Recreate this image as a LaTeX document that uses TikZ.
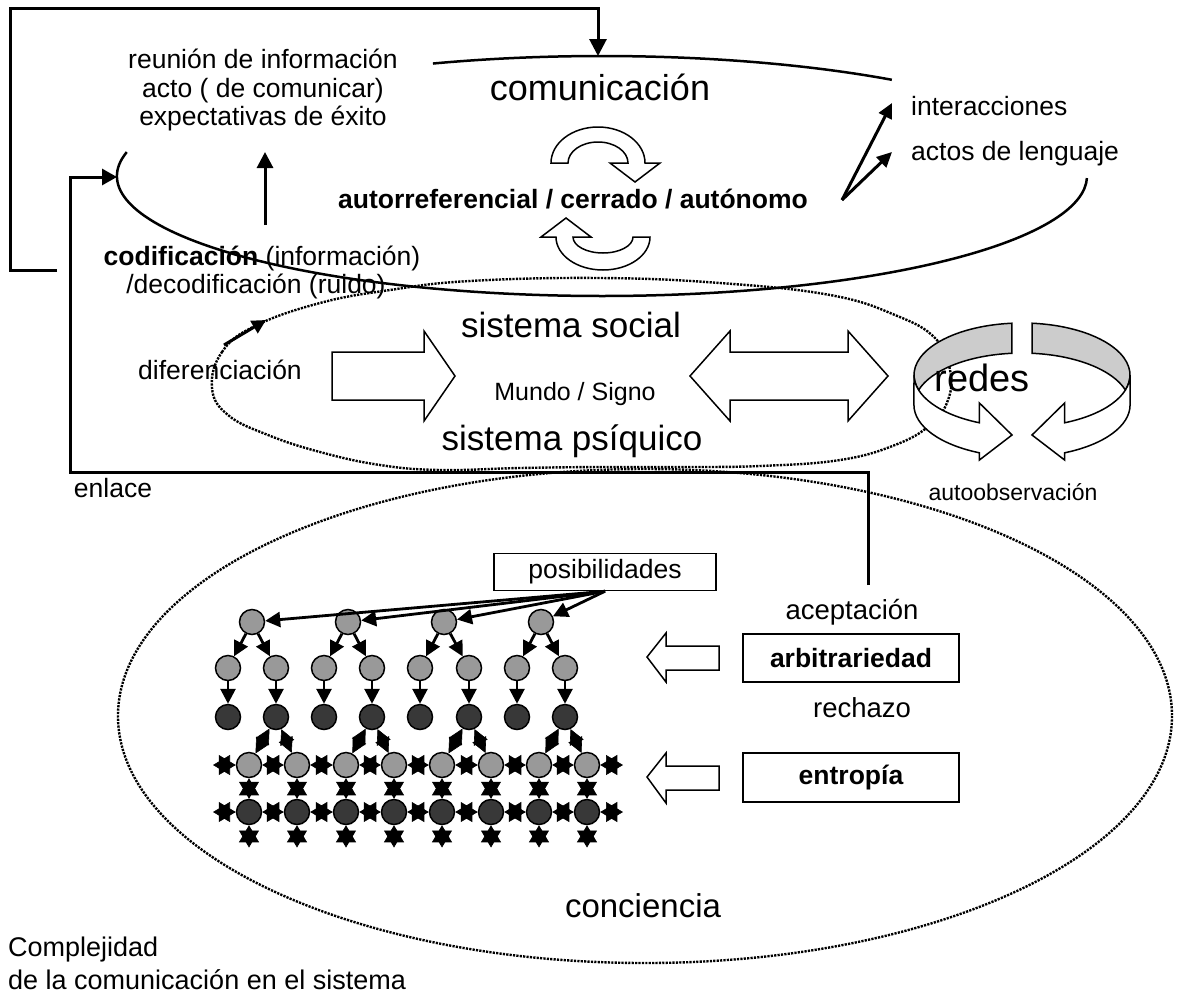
\documentclass[tikz,border=0pt]{standalone}
\usepackage{fontspec}
\setmainfont{Liberation Sans}
\usetikzlibrary{arrows.meta,calc}
\definecolor{ndgray}{gray}{0.6}
\definecolor{nddark}{gray}{0.22}
\definecolor{ringgray}{gray}{0.8}
\begin{document}
\begin{tikzpicture}[x=1pt,y=-1pt,
  every node/.style={inner sep=0pt},
  tsmall/.style={font=\fontsize{26.5}{30}\selectfont},
  tbold/.style={font=\fontsize{26.5}{30}\selectfont\bfseries},
  tmid/.style={font=\fontsize{35}{40}\selectfont},
  tbig/.style={font=\fontsize{36}{40}\selectfont},
  tmundo/.style={font=\fontsize{25}{28}\selectfont},
  fbline/.style={line width=3pt},
  solidell/.style={line width=2.5pt},
  dotline/.style={line width=2.4pt, dash pattern=on 2.2pt off 1.2pt},
  hollow/.style={draw, fill=white, line width=1.5pt, line join=miter},
  gnode/.style={circle, draw, line width=1.5pt, fill=ndgray, minimum size=25pt},
  dnode/.style={circle, draw, line width=1.5pt, fill=nddark, minimum size=25pt},
  tarrow/.style={line width=2.8pt, -{Triangle[length=15pt,width=15pt]}},
  dstar/.style={line width=0.6pt, {Triangle[length=17pt,width=20pt]}-{Triangle[length=17pt,width=20pt]}},
  kite/.style={line width=0.6pt, {Triangle[length=15pt,width=15pt]}-{Triangle[length=15pt,width=15pt]}},
  tbox/.style={draw, line width=1.5pt},
]
\fill[white] (0,0) rectangle (1190,1004);
\useasboundingbox (0,0) rectangle (1190,1004);

% ---------- dotted ellipses ----------
\draw[dotline] plot[smooth cycle, tension=0.7] coordinates {
 (212,388) (222,352) (255,326) (320,303) (390,290) (470,281) (600,278) (720,283)
 (830,295) (895,315) (935,338) (950,370) (948,400) (930,425) (895,445) (840,460)
 (760,466) (680,467) (600,467) (520,468) (440,470) (380,465) (320,452) (268,435) (228,415)};
\draw[dotline] (645,716) ellipse[x radius=527, y radius=247];

% ---------- texts ----------
\node[tsmall, anchor=base] (reu1) at (263,68) {reunión de información};
\node[tsmall, anchor=base] (reu2) at (263,97) {acto ( de comunicar)};
\node[tsmall, anchor=base] (reu3) at (263,125) {expectativas de éxito};
\node[tbig, anchor=base] (com) at (600,100) {comunicación};
\node[tbold, anchor=base] (auto) at (573,208) {autorreferencial / cerrado / autónomo};
\node[tsmall, anchor=base west] (inter) at (911,115) {interacciones};
\node[tsmall, anchor=base west] (actos) at (911,160) {actos de lenguaje};
\node[tsmall, anchor=base] (cod1) at (262,265) {\textbf{codificación} (información)};
\node[tsmall, anchor=base] (cod2) at (256,293) {/decodificación (ruido)};
\node[tmid, anchor=base] (soc) at (571,337) {sistema social};
\node[tsmall, anchor=base] (dif) at (220,379) {diferenciación};
\node[tmundo, anchor=base] (mundo) at (575,400) {Mundo / Signo};
\node[tmid, anchor=base] (psi) at (572,450) {sistema psíquico};
\node[font=\fontsize{23}{26}\selectfont, anchor=base] (autoobs) at (1013,500) {autoobservación};
\node[tsmall, anchor=base] (enl) at (113,497) {enlace};
\node[tsmall, tbox, minimum width=222pt, minimum height=37pt] (pos) at (605,572) {posibilidades};
\node[font=\fontsize{27.5}{30}\selectfont, anchor=base] (acep) at (852,619) {aceptación};
\node[tbold, tbox, minimum width=216pt, minimum height=48pt] (arb) at (851,658) {arbitrariedad};
\node[font=\fontsize{27.5}{30}\selectfont, anchor=base] (rech) at (862,717) {rechazo};
\node[tbold, tbox, minimum width=216pt, minimum height=49pt] (ent) at (851,777.5) {entropía};
\node[font=\fontsize{33}{38}\selectfont, anchor=base] (conc) at (643,917) {conciencia};
\node[font=\fontsize{27}{30}\selectfont, anchor=base west] (comp1) at (8,956) {Complejidad};
\node[font=\fontsize{27}{30}\selectfont, anchor=base west] (comp2) at (8,989) {de la comunicación en el sistema};

% ---------- comunicacion ellipse ----------
\draw[solidell] (602,176) ++(-110.4:485 and 120) arc[start angle=-110.4, end angle=-53.3, x radius=485, y radius=120];
\draw[solidell] (602,176) ++(-168.5:485 and 120) arc[start angle=-168.5, end angle=-359, x radius=485, y radius=120];

% ---------- feedback lines ----------
\coordinate (fbs) at (57,270);
\coordinate (fbc) at (10,8);
\coordinate (comtop) at (598,56);
\draw[fbline, -{Triangle[length=17pt,width=17pt]}] (fbs) -| (fbc) -| (comtop);
\coordinate (acs) at (868,585);
\coordinate (lk) at (70,472);
\coordinate (comleft) at (117,177);
\draw[fbline, -{Triangle[length=15pt,width=16pt]}] (acs) |- (lk) |- (comleft);

% ---------- small arrows ----------
\coordinate (ia) at (842,200);
\coordinate (iat) at (892,103);
\coordinate (iab) at (892,152);
\draw[fbline, -{Triangle[length=15pt,width=14pt]}] (ia) -- (iat);
\draw[fbline, -{Triangle[length=15pt,width=14pt]}] (ia) -- (iab);
\coordinate (ca) at (265,225);
\coordinate (cb) at (265,152);
\draw[fbline, -{Triangle[length=16pt,width=16pt]}] (ca) -- (cb);
\coordinate (dfa) at (224,345);
\coordinate (dfb) at (266,320);
\draw[fbline, -{Triangle[length=14pt,width=14pt]}] (dfa) -- (dfb);

% ---------- circular arrows ----------
\begin{scope}[shift={(598,163)}]
 \draw[hollow] (-180:47 and 36) arc[start angle=-180, end angle=0, x radius=47, y radius=36]
   -- (62,0) -- (37,19) -- (12,0) -- (30,0) arc[start angle=0, end angle=-180, x radius=30, y radius=21] -- cycle;
\end{scope}
\begin{scope}[shift={(603,237)}, rotate=180]
 \draw[hollow] (-180:47 and 33) arc[start angle=-180, end angle=0, x radius=47, y radius=33]
   -- (62,0) -- (37,19) -- (12,0) -- (30,0) arc[start angle=0, end angle=-180, x radius=30, y radius=16] -- cycle;
\end{scope}

% ---------- block arrows ----------
\draw[hollow] (332,352) -- (424,352) -- (424,331) -- (455,376) -- (424,421) -- (424,400) -- (332,400) -- cycle;
\draw[hollow] (690,376) -- (730,331) -- (730,352) -- (848,352) -- (848,331) -- (888,376) -- (848,421) -- (848,400) -- (730,400) -- (730,421) -- cycle;
\draw[hollow] (647,657) -- (666,633) -- (666,646) -- (719,646) -- (719,670) -- (666,670) -- (666,682) -- cycle;
\draw[hollow] (647,777) -- (666,753) -- (666,766) -- (719,766) -- (719,790) -- (666,790) -- (666,803) -- cycle;

% ---------- ring (redes) ----------
\begin{scope}[shift={(1022,375)}, line width=1.5pt, line join=miter]
 \filldraw[fill=ringgray] (-95.4:108 and 52) arc[start angle=-95.4, end angle=-196.8, x radius=108, y radius=52]
   arc[start angle=-163.2, end angle=-95.4, x radius=108, y radius=52] -- cycle;
 \filldraw[fill=ringgray] (-84.6:108 and 52) arc[start angle=-84.6, end angle=16.8, x radius=108, y radius=52]
   arc[start angle=-16.8, end angle=-84.6, x radius=108, y radius=52] -- cycle;
 \filldraw[fill=white] (-108,0) arc[start angle=180, end angle=113.2, x radius=108, y radius=52]
   -- (-42.6,28) -- (-10,60) -- (-42.6,85) -- (-42.6,77.8)
   arc[start angle=113.2, end angle=180, x radius=108, y radius=52] -- cycle;
 \filldraw[fill=white] (108,0) arc[start angle=0, end angle=66.8, x radius=108, y radius=52]
   -- (42.6,28) -- (10,60) -- (42.6,85) -- (42.6,77.8)
   arc[start angle=66.8, end angle=0, x radius=108, y radius=52] -- cycle;
\end{scope}
\node[font=\fontsize{38}{42}\selectfont, anchor=base] (redes) at (982,391) {redes};

% ---------- tree ----------
\foreach \x [count=\i] in {252,348,444,541} \node[gnode] (ra\i) at (\x,622) {};
\foreach \x [count=\i] in {228,276,324,372,420,469,517,565} {
  \node[gnode] (rb\i) at (\x,668) {};
  \node[dnode] (rc\i) at (\x,717) {};
}
\foreach \x [count=\i] in {249,297,346,394,442,491,539,587} {
  \node[gnode] (rd\i) at (\x,765) {};
  \node[dnode] (re\i) at (\x,812) {};
  \coordinate (rf\i) at (\x,847.5);
}
\coordinate (rdL) at (213,765);
\coordinate (rdR) at (623,765);
\coordinate (reL) at (213,812);
\coordinate (reR) at (623,812);

\foreach \i in {1,...,4} \draw[tarrow] (pos.south) -- (ra\i);
\foreach \i/\l/\r in {1/1/2,2/3/4,3/5/6,4/7/8} {
  \draw[tarrow] (ra\i) -- (rb\l);
  \draw[tarrow] (ra\i) -- (rb\r);
}
\foreach \i in {1,...,8} \draw[tarrow] (rb\i) -- (rc\i);
\foreach \p/\l/\r in {2/1/2,4/3/4,6/5/6,8/7/8} {
  \draw[kite] (rc\p) -- (rd\l);
  \draw[kite] (rc\p) -- (rd\r);
}
\foreach \i/\j in {1/2,2/3,3/4,4/5,5/6,6/7,7/8} {
  \draw[dstar] (rd\i) -- (rd\j);
  \draw[dstar] (re\i) -- (re\j);
}
\foreach \i in {1,...,8} {
  \draw[dstar] (rd\i) -- (re\i);
  \draw[dstar] (re\i) -- (rf\i);
}
\draw[dstar] (rd1) -- (rdL);
\draw[dstar] (re1) -- (reL);
\draw[dstar] (rd8) -- (rdR);
\draw[dstar] (re8) -- (reR);
\end{tikzpicture}
\end{document}
